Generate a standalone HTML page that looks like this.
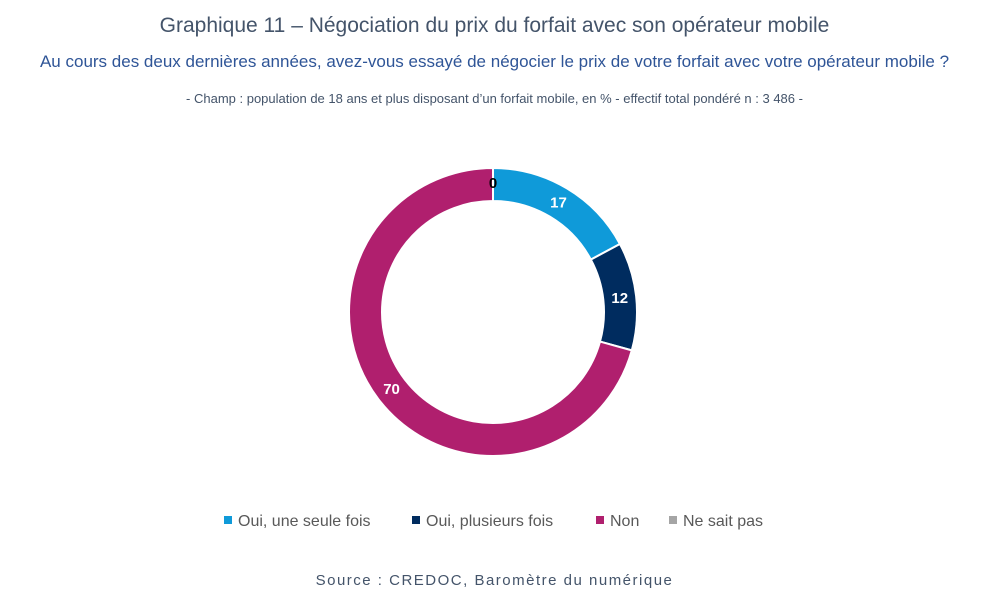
<!DOCTYPE html>
<html><head><meta charset="utf-8"><style>
body{margin:0;background:#fff;width:989px;height:601px;overflow:hidden;font-family:"Liberation Sans",sans-serif;}
.t{position:absolute;left:0;width:989px;text-align:center;}
</style></head><body>
<div class="t" style="top:14px;font-size:21px;color:#44546a;">Graphique 11 – Négociation du prix du forfait avec son opérateur mobile</div>
<div class="t" style="top:52px;font-size:17px;color:#2f5597;">Au cours des deux dernières années, avez-vous essayé de négocier le prix de votre forfait avec votre opérateur mobile ?</div>
<div class="t" style="top:91px;font-size:13px;color:#44546a;">- Champ : population de 18 ans et plus disposant d’un forfait mobile, en % - effectif total pondéré n : 3 486 -</div>
<svg id="chart" width="989" height="601" style="position:absolute;left:0;top:0"></svg>
<div class="t" style="top:572px;font-size:15px;color:#44546a;letter-spacing:1.5px;">Source : CREDOC, Baromètre du numérique</div>
<script>
const categories=["Oui, une seule fois","Oui, plusieurs fois","Non","Ne sait pas"];
const values=[17,12,70,0];
const colors=["#0f9ad9","#002c5f","#b01f6e","#a5a5a5"];
const NS="http://www.w3.org/2000/svg";
const svg=document.getElementById("chart");
const cx=493,cy=312,R=144,r=111;
const total=values.reduce((a,b)=>a+b,0);
function pt(a,rad){return [cx+rad*Math.sin(a),cy-rad*Math.cos(a)];}
let acc=0;
values.forEach((v,i)=>{
  const a0=acc/total*2*Math.PI; acc+=v; const a1=acc/total*2*Math.PI;
  const mid=(a0+a1)/2;
  if(v>0){
    const large=(a1-a0)>Math.PI?1:0;
    const [x0,y0]=pt(a0,R),[x1,y1]=pt(a1,R),[x2,y2]=pt(a1,r),[x3,y3]=pt(a0,r);
    const p=document.createElementNS(NS,"path");
    p.setAttribute("d",`M${x0},${y0}A${R},${R} 0 ${large} 1 ${x1},${y1}L${x2},${y2}A${r},${r} 0 ${large} 0 ${x3},${y3}Z`);
    p.setAttribute("fill",colors[i]);p.setAttribute("stroke","#fff");p.setAttribute("stroke-width","2");
    
    
    svg.appendChild(p);
  }
  const lr=v>0?(R+r)/2:R-15;
  const [lx,ly]=pt(mid,lr);
  const t=document.createElementNS(NS,"text");
  t.setAttribute("x",lx);t.setAttribute("y",ly+5);t.setAttribute("text-anchor","middle");
  t.setAttribute("font-size","15");t.setAttribute("font-weight","bold");
  t.setAttribute("fill",v>0?"#fff":"#000");
  t.textContent=v;
  
  
  svg.appendChild(t);
});
const lx=[224,412,596,669];
categories.forEach((c,i)=>{
  const s=document.createElementNS(NS,"rect");
  s.setAttribute("x",lx[i]);s.setAttribute("y",516);s.setAttribute("width",8);s.setAttribute("height",8);s.setAttribute("fill",colors[i]);
  
  
  svg.appendChild(s);
  const t=document.createElementNS(NS,"text");
  t.setAttribute("x",lx[i]+14);t.setAttribute("y",526);t.setAttribute("font-size","16");t.setAttribute("fill","#595959");
  t.textContent=c;
  
  
  svg.appendChild(t);
});
</script>
</body></html>
